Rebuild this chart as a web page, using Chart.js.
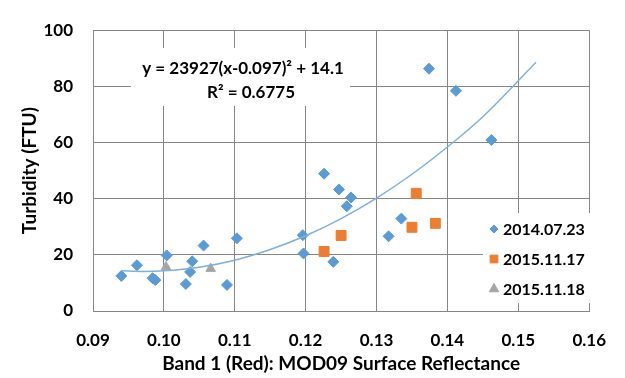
<!DOCTYPE html>
<html>
<head>
<meta charset="utf-8">
<script src="https://cdn.jsdelivr.net/npm/chart.js@4"></script>
<style>
  html, body { margin: 0; padding: 0; background: #fff; }
  #wrap { width: 625px; height: 378px; }
</style>
</head>
<body>
<div id="wrap"><canvas id="chart"></canvas></div>
<script>
/* values */
const julyRefl = [0.0940, 0.0962, 0.0984, 0.0988, 0.1004, 0.1031, 0.1037, 0.1040, 0.1056, 0.1089, 0.1103,
  0.1196, 0.1197, 0.1226, 0.1239, 0.1247, 0.1258, 0.1264, 0.1317, 0.1335, 0.1374, 0.1412, 0.1462];
const julyTurb = [12.5, 16.3, 11.7, 11.0, 19.8, 9.6, 13.9, 17.7, 23.3, 9.3, 25.9,
  27.0, 20.5, 48.9, 17.5, 43.3, 37.3, 40.4, 26.6, 32.9, 86.3, 78.4, 60.9];

const nov17Refl = [0.1226, 0.1250, 0.1356, 0.1350, 0.1383];
const nov17Turb = [21.2, 26.9, 41.9, 29.8, 31.2];

const nov18Refl = [0.1003, 0.1066];
const nov18Turb = [15.7, 15.1];

/* trend curve, points picked along the drawn line */
const trendRefl = [0.094, 0.097, 0.100, 0.105, 0.110, 0.115, 0.120, 0.125, 0.130, 0.135, 0.140, 0.145, 0.1525];
const trendTurb = [14.3, 14.1, 14.3, 15.6, 18.1, 21.9, 26.8, 32.9, 40.2, 48.7, 58.4, 69.2, 88.6];

const seriesLabels = ["2014.07.23", "2015.11.17", "2015.11.18"];
const equationLines = ["y = 23927(x-0.097)\u00b2 + 14.1", "R\u00b2 = 0.6775"];
const xTitle = "Band 1 (Red): MOD09 Surface Reflectance";
const yTitle = "Turbidity (FTU)";

const pairs = (xs, ys) => xs.map((x, i) => ({ x, y: ys[i] }));

const BLUE = "#5b9bd5";
const ORANGE = "#ed7d31";
const GRAY = "#a5a5a5";
const GRID = "#868686";
const FONT = "Lato, 'Liberation Sans', sans-serif";

/* equation box and legend, both sitting inside the plot */
const overlay = {
  id: "overlay",
  afterDraw(chart) {
    const ctx = chart.ctx;
    ctx.save();
    // equation
    ctx.fillStyle = "#fff";
    ctx.fillRect(131, 48, 219, 58);
    ctx.fillStyle = "#000";
    ctx.font = "bold 17px " + FONT;
    ctx.textAlign = "center";
    ctx.textBaseline = "middle";
    ctx.fillText(equationLines[0], 243, 69);
    ctx.fillText(equationLines[1], 251, 93);

    // legend
    ctx.fillStyle = "#fff";
    ctx.fillRect(483, 213, 108, 90);
    const rowY = [229, 259, 289];
    ctx.textAlign = "left";
    ctx.font = "bold 16px " + FONT;
    for (let i = 0; i < 3; i++) {
      const ds = chart.data.datasets[i];
      ctx.fillStyle = ds.backgroundColor;
      ctx.strokeStyle = ds.backgroundColor;
      ctx.lineWidth = 1;
      Chart.helpers.drawPoint(ctx, { pointStyle: ds.pointStyle, radius: i === 0 ? 4 : 5.5, borderWidth: 1, rotation: 0 }, 494, rowY[i]);
      ctx.fillStyle = "#000";
      ctx.fillText(seriesLabels[i], 503, rowY[i] + 1);
    }
    ctx.restore();
  }
};

const config = {
  type: "scatter",
  data: {
    datasets: [
      {
        label: seriesLabels[0],
        data: pairs(julyRefl, julyTurb),
        pointStyle: "rectRot",
        pointRadius: 5.5,
        backgroundColor: BLUE,
        borderColor: BLUE,
        borderWidth: 1,
      },
      {
        label: seriesLabels[1],
        data: pairs(nov17Refl, nov17Turb),
        pointStyle: "rect",
        pointRadius: 7,
        backgroundColor: ORANGE,
        borderColor: ORANGE,
        borderWidth: 1,
      },
      {
        label: seriesLabels[2],
        data: pairs(nov18Refl, nov18Turb),
        pointStyle: "triangle",
        pointRadius: 5.5,
        backgroundColor: GRAY,
        borderColor: GRAY,
        borderWidth: 1,
      },
      {
        type: "line",
        label: "trend",
        data: pairs(trendRefl, trendTurb),
        borderColor: "#7eb0dd",
        borderWidth: 1.5,
        pointRadius: 0,
        fill: false,
        cubicInterpolationMode: "monotone",
        order: -1,
      },
    ],
  },
  options: {
    responsive: true,
    maintainAspectRatio: false,
    animation: false,
    layout: { padding: { top: 18, right: 30, left: 0, bottom: 0 } },
    scales: {
      x: {
        type: "linear",
        min: 0.09,
        max: 0.16,
        afterFit: (s) => { s.height = 67; },
        grid: { color: GRID, drawTicks: false, lineWidth: 1 },
        border: { color: GRID },
        ticks: {
          stepSize: 0.01,
          padding: 19,
          color: "#000",
          font: { family: FONT, size: 17, weight: "bold" },
          callback: (v) => v.toFixed(2),
        },
        title: {
          display: true,
          text: xTitle,
          color: "#000",
          font: { family: FONT, size: 19, weight: "bold" },
          padding: { top: 0, bottom: 3 },
        },
      },
      y: {
        min: 0,
        max: 100,
        afterFit: (s) => { s.width = 93; },
        grid: { color: GRID, drawTicks: false, lineWidth: 1 },
        border: { color: GRID },
        ticks: {
          stepSize: 20,
          padding: 20,
          color: "#000",
          font: { family: FONT, size: 17, weight: "bold" },
        },
        title: {
          display: true,
          text: yTitle,
          color: "#000",
          font: { family: FONT, size: 19, weight: "bold" },
          padding: { top: 18, bottom: 0 },
        },
      },
    },
    plugins: {
      legend: { display: false },
      tooltip: { enabled: false },
    },
  },
  plugins: [overlay],
};

new Chart(document.getElementById("chart"), config);
</script>
</body>
</html>
